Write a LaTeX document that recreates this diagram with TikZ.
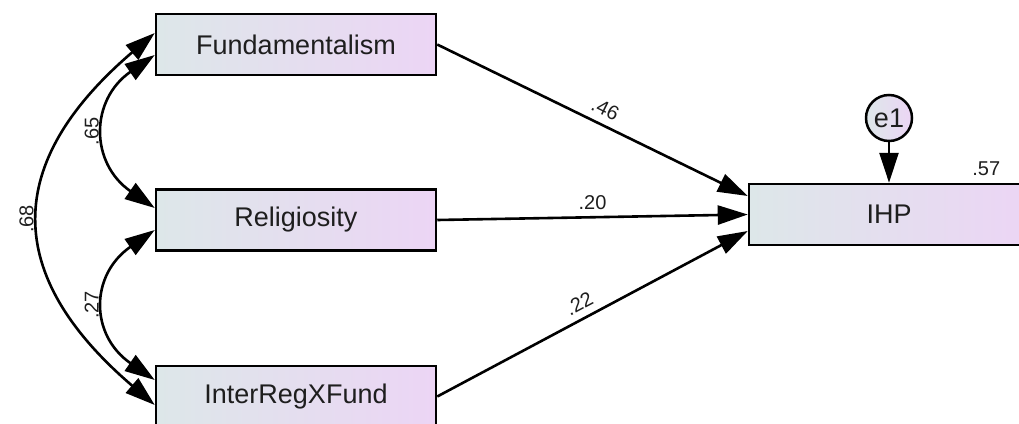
\documentclass[tikz,border=0pt]{standalone}
\usepackage{fontspec}
\setmainfont{Liberation Sans}
\usetikzlibrary{arrows.meta,positioning}
\definecolor{boxleft}{RGB}{221,231,233}
\definecolor{boxright}{RGB}{236,213,245}
\definecolor{inkgray}{RGB}{30,30,30}
\tikzset{
	obs/.style={draw=black, line width=2.5pt, minimum width=280pt, minimum height=61pt, left color=boxleft, right color=boxright, text=inkgray, font=\fontsize{27}{30}\selectfont},
	err/.style={circle, draw=black, line width=2.5pt, minimum size=46pt, inner sep=0pt, left color=boxleft, right color=boxright, text=inkgray, font=\fontsize{27}{30}\selectfont},
	coef/.style={text=inkgray, inner sep=2pt, font=\fontsize{20}{22}\selectfont},
	reg/.style={line width=2.6pt, -{Triangle[length=30pt,width=19pt]}},
	cov/.style={line width=2.6pt, {Triangle[length=30pt,width=19pt]}-{Triangle[length=30pt,width=19pt]}}
}
\begin{document}
\begin{tikzpicture}[x=1pt, y=1pt]
		\path[use as bounding box, clip] (0,0) rectangle (1019,-423);
		\node[obs] at (296,-44.5) 						(fund) 	{Fundamentalism};
		\node[obs, below of=fund, node distance=175.5pt] 	(rel) 	{Religiosity};
		\node[obs, below of=rel, node distance=176.5pt] 	(inter) {InterRegXFund};
		\node[obs] at (889,-214.5) 						(ihp) 	{IHP};
		\node[err, above of=ihp, node distance=96.5pt] 	(e1) 	{e1};
		\node[coef, anchor=south, xshift=-44pt, yshift=5pt] at (ihp.north east) (r2) {.57};
		
		\draw[reg] (e1) -- (ihp);
		\draw[reg] (fund.east) --node[coef, above=5pt, sloped, pos=0.52] {.46} ([yshift=18.5pt]ihp.west);
		\draw[reg] (rel.east) --node[coef, above=4pt, pos=0.5] {.20} (ihp.west);
		\draw[reg] (inter.east) --node[coef, above=5pt, sloped, pos=0.48] {.22} ([yshift=-16.5pt]ihp.west);
		
		\draw[cov] ([yshift=12pt]rel.west) .. controls +(-65,45) and +(-65,-45) .. node[coef, above=4pt, sloped] {.65} ([yshift=-10.5pt]fund.west);
		\draw[cov] ([yshift=16.5pt]inter.west) .. controls +(-65,45) and +(-65,-45) .. node[coef, above=4pt, sloped] {.27} ([yshift=-10pt]rel.west);
		\draw[cov] ([yshift=-8.5pt]inter.west) .. controls +(-152,130) and +(-152,-130) .. node[coef, above=4pt, sloped] {.68} ([yshift=11.5pt]fund.west);
		\end{tikzpicture}
\end{document}
